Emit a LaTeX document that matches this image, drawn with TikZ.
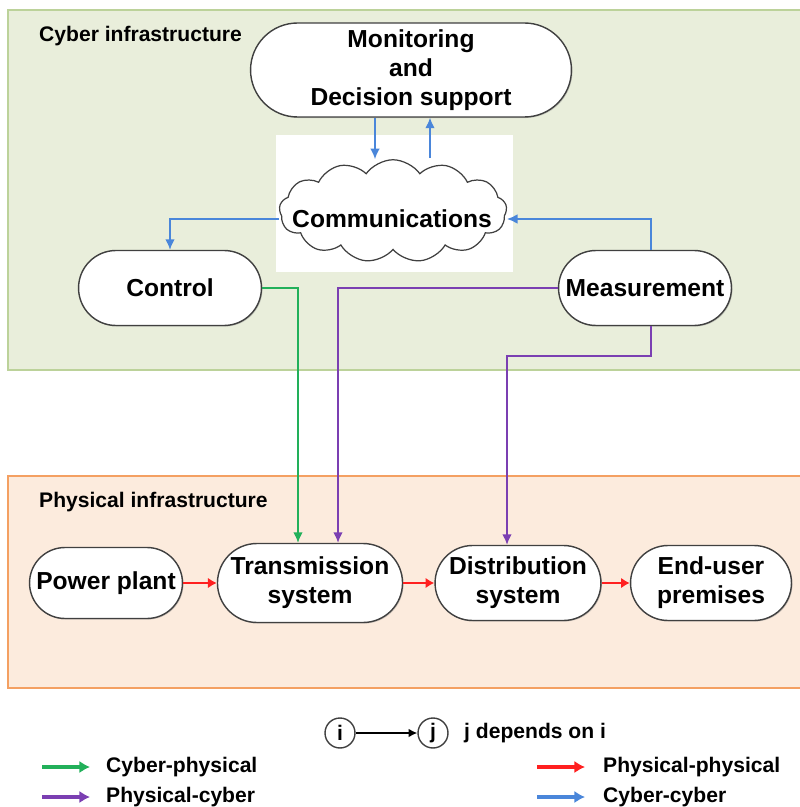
\documentclass[tikz,border=0pt]{standalone}
\usepackage{fontspec}
\setmainfont{Liberation Sans}
\usetikzlibrary{shapes.misc,shapes.symbols,arrows.meta,shadows,calc}

\definecolor{cyberfill}{HTML}{E9EEDB}
\definecolor{cyberline}{HTML}{BCD29A}
\definecolor{physfill}{HTML}{FCEBDD}
\definecolor{physline}{HTML}{F4A062}
\definecolor{ccblue}{HTML}{4A86DA}
\definecolor{cpgreen}{HTML}{22B05A}
\definecolor{pcpurple}{HTML}{7B3FB2}
\definecolor{ppred}{HTML}{FF2020}

\begin{document}
\begin{tikzpicture}[x=0.02cm,y=-0.02cm,
  box/.style={rounded rectangle, draw=black!75, fill=white, line width=0.8pt, align=center, inner sep=2pt,
    font=\fontsize{14}{16.5}\selectfont\bfseries,
    drop shadow={shadow xshift=0.6pt, shadow yshift=-0.6pt, opacity=0.35}},
  lbl/.style={anchor=west, font=\fontsize{12}{14}\selectfont\bfseries},
  cc/.style={draw=ccblue, line width=0.9pt, -{Latex[length=6pt,width=5.5pt]}},
  cp/.style={draw=cpgreen, line width=0.9pt, -{Latex[length=6pt,width=5.5pt]}},
  pc/.style={draw=pcpurple, line width=0.9pt, -{Latex[length=6pt,width=5.5pt]}},
  pp/.style={draw=ppred, line width=1.6pt, -{Latex[length=5pt,width=6pt]}},
  key/.style={line width=1.8pt, -{Latex[length=6pt,width=7pt]}}
]
\useasboundingbox (0,0) rectangle (800,807);

\draw [cyberline, fill=cyberfill, line width=1.6pt] (8,10) rectangle (815,370);
\draw [physline, fill=physfill, line width=1.6pt] (8,476) rectangle (815,688);
\fill [white] (276,135) rectangle (513,272);

\node [lbl] (cyberlbl) at (33,36) {Cyber infrastructure};
\node [lbl] (physlbl) at (33,502) {Physical infrastructure};

\node [box, minimum width=6.56cm, minimum height=1.88cm] (mon) at (411,70) {Monitoring\\and\\Decision support};
\node [cloud, draw=black!75, fill=white, line width=0.7pt, cloud puffs=13, cloud puff arc=110, cloud ignores aspect,
  minimum width=4.55cm, minimum height=2.05cm] (comm) at (393,211) {};
\node [font=\fontsize{14}{16}\selectfont\bfseries] (commtxt) at (392,219) {Communications};
\node [box, minimum width=3.8cm, minimum height=1.5cm] (ctrl) at (170,288) {Control};
\node [box, minimum width=3.6cm, minimum height=1.5cm] (meas) at (645,288) {Measurement};

\node [box, minimum width=3.2cm, minimum height=1.42cm] (plant) at (106,583) {Power plant};
\node [box, minimum width=3.6cm, minimum height=1.58cm] (trans) at (310,583) {Transmission\\system};
\node [box, minimum width=3.3cm, minimum height=1.5cm] (dist) at (518,583) {Distribution\\system};
\node [box, minimum width=3.36cm, minimum height=1.5cm] (enduser) at (711,583) {End-user\\premises};

\coordinate (mdown) at ($(mon.south)+(-36,0)$);
\coordinate (mup) at ($(mon.south)+(19,0)$);
\draw [cc] (mdown) -- (mdown |- comm.north);
\draw [cc] ($(mup |- comm.north)+(0,-1)$) -- (mup);
\draw [cc] ($(comm.west)+(0,8)$) -| (ctrl.north);
\draw [cc] ($(meas.north)+(6,0)$) |- ($(comm.east)+(0,8)$);

\draw [cp] (ctrl.east) -| ($(trans.north)+(-12,0)$);
\draw [pc] (meas.west) -| ($(trans.north)+(28,0)$);
\draw [pc] ($(meas.south)+(6,0)$) -- ++(0,30) -| ($(dist.north)+(-11,0)$);

\draw [pp] (plant.east) -- (trans.west);
\draw [pp] (trans.east) -- (dist.west);
\draw [pp] (dist.east) -- (enduser.west);

\node [circle, draw=black!75, line width=0.8pt, minimum size=0.6cm, inner sep=0pt, font=\fontsize{12}{14}\selectfont\bfseries] (ni) at (340,733) {i};
\node [circle, draw=black!75, line width=0.8pt, minimum size=0.6cm, inner sep=0pt, font=\fontsize{12}{14}\selectfont\bfseries] (nj) at (433,733) {j};
\draw [line width=0.9pt, -{Latex[length=5pt,width=5pt]}] (ni) -- (nj);
\node [lbl] (deplbl) at (458,733) {j depends on i};

\coordinate (cpa) at (42,767);
\coordinate (cpb) at (90,767);
\draw [key, cpgreen] (cpa) -- (cpb);
\node [lbl] (cplbl) at (100,767) {Cyber-physical};

\coordinate (pca) at (42,797);
\coordinate (pcb) at (90,797);
\draw [key, pcpurple] (pca) -- (pcb);
\node [lbl] (pclbl) at (100,797) {Physical-cyber};

\coordinate (ppa) at (537,767);
\coordinate (ppb) at (585,767);
\draw [key, ppred] (ppa) -- (ppb);
\node [lbl] (pplbl) at (597,767) {Physical-physical};

\coordinate (cca) at (537,797);
\coordinate (ccb) at (585,797);
\draw [key, ccblue] (cca) -- (ccb);
\node [lbl] (cclbl) at (597,797) {Cyber-cyber};

\end{tikzpicture}
\end{document}
